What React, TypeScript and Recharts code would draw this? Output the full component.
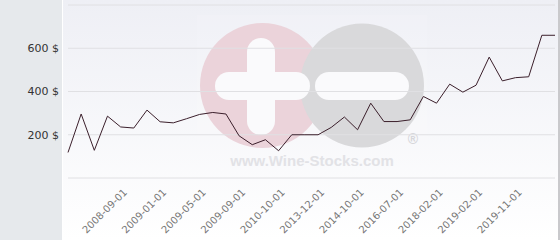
import React from "react";
import { LineChart, Line, XAxis, YAxis, CartesianGrid } from "recharts";

// price history per date (USD)
const dates = [
  "2007-11-01", "2008-01-01", "2008-04-01", "2008-07-01", "2008-09-01",
  "2008-10-01", "2008-12-01", "2009-01-01", "2009-02-01", "2009-04-01",
  "2009-05-01", "2009-06-01", "2009-08-01", "2009-09-01", "2009-12-01",
  "2010-05-01", "2010-10-01", "2011-09-01", "2012-11-01", "2013-12-01",
  "2014-03-01", "2014-07-01", "2014-10-01", "2015-06-01", "2016-01-01",
  "2016-07-01", "2017-03-01", "2017-09-01", "2018-02-01", "2018-06-01",
  "2018-10-01", "2019-02-01", "2019-05-01", "2019-08-01", "2019-11-01",
  "2020-03-01", "2020-07-01", "2020-11-01",
];

const prices = [
  118, 296, 128, 286, 236, 231, 314, 260, 255, 274,
  294, 303, 296, 195, 154, 177, 126, 200, 200, 200,
  234, 282, 223, 346, 261, 261, 269, 377, 346, 434,
  397, 429, 559, 449, 464, 468, 660, 660,
];

const shownTicks = [
  "2008-09-01", "2009-01-01", "2009-05-01", "2009-09-01", "2010-10-01",
  "2013-12-01", "2014-10-01", "2016-07-01", "2018-02-01", "2019-02-01",
  "2019-11-01",
];

const yTicks = [0, 200, 400, 600];

const data = dates.map((d, i) => ({ date: d, price: prices[i] }));

function DateTick({ x, y, payload }: any) {
  const ax = x + 7;
  const ay = y + 15;
  return (
    <text
      x={ax}
      y={ay}
      textAnchor="end"
      fill="#777"
      fontSize={10}
      fontFamily="DejaVu Sans, sans-serif"
      transform={`rotate(-45, ${ax}, ${ay})`}
    >
      {payload.value}
    </text>
  );
}

function Watermark() {
  return (
    <svg width={560} height={240} style={{ position: "absolute", left: 0, top: 0 }}>
      <defs>
        <linearGradient id="bg" x1="0" y1="0" x2="0" y2="1">
          <stop offset="0%" stopColor="#eeeff5" />
          <stop offset="100%" stopColor="#ffffff" />
        </linearGradient>
      </defs>
      <rect x={0} y={0} width={560} height={240} fill="url(#bg)" />
      <rect x={197} y={15} width={230} height={158} fill="#ffffff" opacity={0.12} />
      <circle cx={262.5} cy={85.5} r={62.5} fill="#ebd3da" />
      <circle cx={362} cy={85.5} r={62} fill="#d9d9db" />
      <rect x={247} y={38} width={28} height={97} rx={14} fill="#fafafc" />
      <rect x={215} y={72} width={95} height={28} rx={14} fill="#fafafc" />
      <rect x={315} y={72} width={94} height={28} rx={14} fill="#fafafc" />
      <text
        x={312}
        y={166}
        textAnchor="middle"
        fontSize={15}
        fontWeight="bold"
        fontFamily="Liberation Sans, Arial, sans-serif"
        fill="#e2e2e6"
      >
        www.Wine-Stocks.com
      </text>
      <text
        x={413}
        y={144}
        textAnchor="middle"
        fontSize={14}
        fontWeight="bold"
        fontFamily="Liberation Sans, Arial, sans-serif"
        fill="#d6d6da"
      >
        ®
      </text>
      <rect x={0} y={0} width={62} height={240} fill="#e6e9ec" />
      <rect x={62} y={0} width={1} height={240} fill="#ffffff" />
      <rect x={558} y={0} width={2} height={240} fill="#c9c9cc" />
    </svg>
  );
}

export default function App() {
  return (
    <div style={{ position: "fixed", left: 0, top: 0, width: 560, height: 240 }}>
      <Watermark />
      <div style={{ position: "absolute", left: 0, top: 0 }}>
        <LineChart width={560} height={240} data={data} margin={{ top: 5, right: 5, left: 0, bottom: 0 }}>
          <CartesianGrid vertical={false} stroke="#e0e0e3" />
          <XAxis
            dataKey="date"
            ticks={shownTicks}
            interval={0}
            tick={<DateTick />}
            axisLine={false}
            tickLine={false}
            tickSize={0}
            tickMargin={0}
            height={62}
          />
          <YAxis
            domain={[0, 800]}
            ticks={yTicks}
            tickFormatter={(v: number) => (v === 0 ? "" : `${v} $`)}
            tick={{ fill: "#333", fontSize: 11, fontFamily: "DejaVu Sans, sans-serif" }}
            axisLine={false}
            tickLine={false}
            tickSize={0}
            tickMargin={9}
            width={68}
          />
          <Line
            type="linear"
            dataKey="price"
            stroke="#3b1f2b"
            strokeWidth={1}
            dot={false}
            isAnimationActive={false}
          />
        </LineChart>
      </div>
    </div>
  );
}
